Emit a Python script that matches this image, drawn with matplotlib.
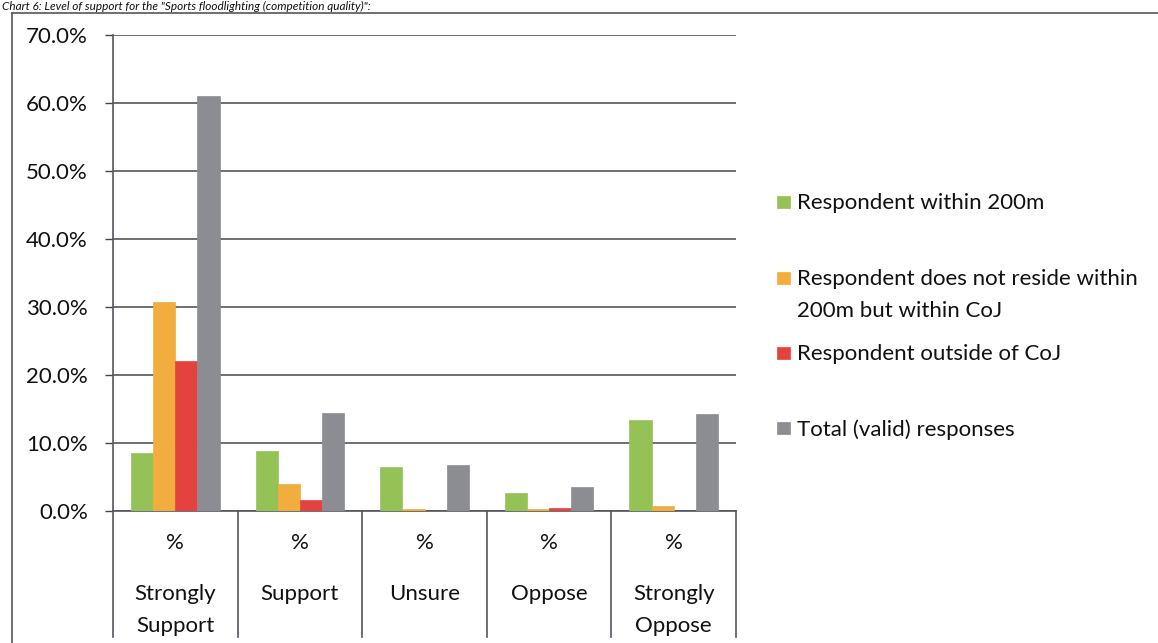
import matplotlib
matplotlib.use("Agg")
import matplotlib.pyplot as plt
import matplotlib.transforms as mtransforms
from matplotlib.lines import Line2D
from matplotlib.patches import Rectangle
import numpy as np

plt.rcParams['font.family'] = ['Lato', 'DejaVu Sans']

categories = ["Strongly\nSupport", "Support", "Unsure", "Oppose", "Strongly\nOppose"]
unit_labels = ["%", "%", "%", "%", "%"]
series_names = ["Respondent within 200m",
                "Respondent does not reside within\n200m but within CoJ",
                "Respondent outside of CoJ",
                "Total (valid) responses"]
within_200m = [8.5, 8.8, 6.4, 2.7, 13.4]
within_coj = [30.8, 4.0, 0.3, 0.3, 0.8]
outside_coj = [22.1, 1.6, 0.0, 0.4, 0.0]
total_valid = [61.1, 14.4, 6.8, 3.5, 14.2]
yticks = [0, 10, 20, 30, 40, 50, 60, 70]
title = 'Chart 6: Level of support for the "Sports floodlighting (competition quality)":'

colors = ["#95C257", "#F1AD3D", "#E4423F", "#8C8C93"]
series = [within_200m, within_coj, outside_coj, total_valid]

W, H = 1158, 643
FS = 16
fig = plt.figure(figsize=(W / 100, H / 100), dpi=100)

def fx(px):
    return px / W

def fy(py):
    return 1 - py / H

ax_left, ax_right, ax_top, ax_bottom = 113, 736, 35, 511
ax = fig.add_axes([fx(ax_left), fy(ax_bottom), (ax_right - ax_left) / W, (ax_bottom - ax_top) / H])

x = np.arange(len(categories))
bw = 0.178
for i, (vals, c) in enumerate(zip(series, colors)):
    ax.bar(x + (i - 1.5) * bw, vals, width=bw, color=c, edgecolor=c, linewidth=0.5, zorder=3)

ax.set_xlim(-0.5, len(categories) - 0.5)
ax.set_ylim(0, 70)
ax.set_yticks(yticks)
ax.set_yticklabels([f"{v:.1f}%" for v in yticks], fontsize=FS, color="#111111")
ax.tick_params(axis='y', length=6, width=1.0, color="#444444", pad=12)
ax.set_xticks([])
gridc = "#555560"
ax.yaxis.grid(True, color=gridc, linewidth=1.2, zorder=1)
ax.set_axisbelow(True)
for s in ["top", "right"]:
    ax.spines[s].set_visible(False)
ax.spines["left"].set_color(gridc)
ax.spines["left"].set_linewidth(1.2)
ax.spines["bottom"].set_color(gridc)
ax.spines["bottom"].set_linewidth(1.2)

# category separators extending below axis
axh = ax_bottom - ax_top
sep_bottom = -(637 - ax_bottom) / axh
trans = mtransforms.blended_transform_factory(ax.transData, ax.transAxes)
for b in np.arange(-0.5, len(categories), 1.0):
    ax.add_line(Line2D([b, b], [0, sep_bottom], transform=trans, color=gridc,
                       linewidth=1.2, clip_on=False))

y_unit = -(543 - ax_bottom) / axh
y_name = -(584 - ax_bottom) / axh
for xi, (u, name) in enumerate(zip(unit_labels, categories)):
    ax.text(xi, y_unit, u, transform=trans, ha='center', va='center', fontsize=FS, color="#111111")
    ax.text(xi, y_name, name, transform=trans, ha='center', va='top', fontsize=FS,
            color="#111111", linespacing=1.72)

# legend (manual placement)
leg_centers = [202, 278, 353, 428]
for name, c, yc in zip(series_names, colors, leg_centers):
    fig.patches.append(Rectangle((fx(777), fy(yc + 6)), 13 / W, 12 / H, transform=fig.transFigure,
                                 facecolor=c, edgecolor=c, linewidth=0.5))
    fig.text(fx(797), fy(yc - 9), name, ha='left', va='top', fontsize=FS, color="#111111",
             linespacing=1.72)

# outer chart border
fig.add_artist(Line2D([fx(12), fx(12)], [fy(13), 0], transform=fig.transFigure, color="#555560", linewidth=1.2))
fig.add_artist(Line2D([fx(12), 1], [fy(13), fy(13)], transform=fig.transFigure, color="#555560", linewidth=1.2))

# title (partly hidden in the reference; kept fully visible here)
fig.text(fx(2), fy(0.5), title, ha='left', va='top', fontsize=8.5, style='italic', color="#111111")

fig.savefig("out.png", dpi=100)
